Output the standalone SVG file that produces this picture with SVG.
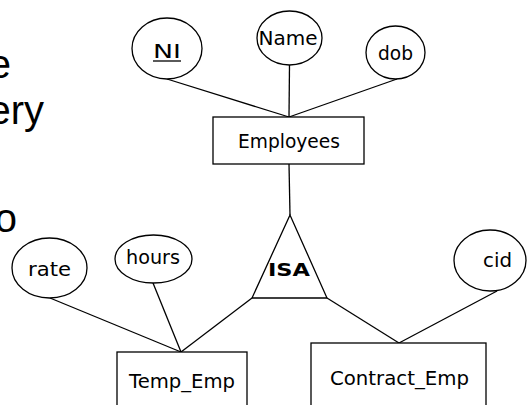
<svg xmlns="http://www.w3.org/2000/svg" width="530" height="405" viewBox="0 0 530 405">
<style>
.shape{fill:#fff;stroke:#000;stroke-width:1.3}
.edge{fill:none;stroke:#000;stroke-width:1.3}
.lbl{font-family:"Comic Sans MS","DejaVu Sans",sans-serif;font-size:19px;fill:#000;text-anchor:middle}
.isa{font-family:"Comic Sans MS","DejaVu Sans",sans-serif;font-size:18px;font-weight:bold;fill:#000;text-anchor:middle}
.slide{font-family:"Liberation Sans",Arial,sans-serif;font-size:40px;fill:#000;text-anchor:end}
</style>
<rect width="530" height="405" fill="#fff"/>
<g id="slide-text">
<text class="slide" x="11" y="78">e</text>
<text class="slide" x="44" y="124">ery</text>
<text class="slide" x="17" y="232">o</text>
</g>
<g id="connectors">
<line class="edge" x1="167" y1="79" x2="289" y2="117"/>
<line class="edge" x1="289.5" y1="65" x2="289" y2="117"/>
<line class="edge" x1="397" y1="79" x2="289" y2="117"/>
<line class="edge" x1="289" y1="164" x2="290" y2="215"/>
<line class="edge" x1="50" y1="298" x2="181" y2="352"/>
<line class="edge" x1="153" y1="283" x2="181" y2="352"/>
<line class="edge" x1="252" y1="298" x2="181" y2="352"/>
<line class="edge" x1="327" y1="298" x2="399" y2="343"/>
<line class="edge" x1="497" y1="291" x2="399" y2="343"/>
</g>
<g id="NI">
<ellipse class="shape" cx="167" cy="48.5" rx="35" ry="30.5"/>
<text class="lbl" x="167" y="58" textLength="28" lengthAdjust="spacingAndGlyphs">NI</text>
<line class="edge" x1="153" y1="61" x2="181" y2="61"/>
</g>
<g id="Name">
<ellipse class="shape" cx="289.5" cy="38" rx="32.5" ry="27"/>
<text class="lbl" x="288" y="45" textLength="59" lengthAdjust="spacingAndGlyphs">Name</text>
</g>
<g id="dob">
<ellipse class="shape" cx="395.5" cy="52.5" rx="29.5" ry="26.5"/>
<text class="lbl" x="395.5" y="60" textLength="35" lengthAdjust="spacingAndGlyphs">dob</text>
</g>
<g id="Employees">
<rect class="shape" x="213" y="117" width="151" height="47"/>
<text class="lbl" x="289" y="148" textLength="102" lengthAdjust="spacingAndGlyphs">Employees</text>
</g>
<g id="ISA">
<polygon class="shape" points="290,215 252,298 327,298"/>
<text class="isa" x="289" y="276" textLength="42" lengthAdjust="spacingAndGlyphs">ISA</text>
</g>
<g id="rate">
<ellipse class="shape" cx="49.5" cy="268" rx="37.5" ry="30"/>
<text class="lbl" x="49.5" y="276" textLength="43" lengthAdjust="spacingAndGlyphs">rate</text>
</g>
<g id="hours">
<ellipse class="shape" cx="153.5" cy="259" rx="38.5" ry="24"/>
<text class="lbl" x="153" y="264" textLength="54" lengthAdjust="spacingAndGlyphs">hours</text>
</g>
<g id="cid">
<ellipse class="shape" cx="490" cy="260.5" rx="36" ry="30.5"/>
<text class="lbl" x="497.5" y="267" textLength="29" lengthAdjust="spacingAndGlyphs">cid</text>
</g>
<g id="Temp_Emp">
<rect class="shape" x="117" y="352" width="130" height="70"/>
<text class="lbl" x="182" y="388" textLength="106" lengthAdjust="spacingAndGlyphs">Temp_Emp</text>
</g>
<g id="Contract_Emp">
<rect class="shape" x="311" y="343" width="175" height="80"/>
<text class="lbl" x="399.5" y="385" textLength="139" lengthAdjust="spacingAndGlyphs">Contract_Emp</text>
</g>
</svg>
